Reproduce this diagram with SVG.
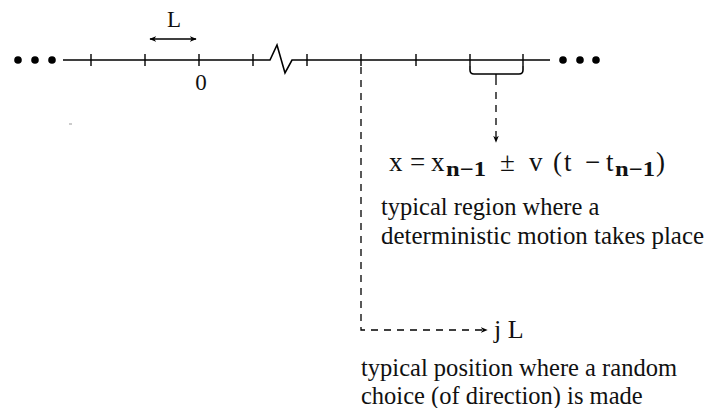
<svg xmlns="http://www.w3.org/2000/svg" width="710" height="408" viewBox="0 0 710 408">
<style>
.ln{stroke:#000;stroke-width:1.6;fill:none}
.tk{stroke:#000;stroke-width:1.4}
.ds{stroke:#000;stroke-width:1.3;fill:none;stroke-dasharray:7,6}
.t{font-family:"Liberation Serif","Times New Roman",serif;fill:#111}
.sub{font-family:"Liberation Serif","Times New Roman",serif;font-weight:bold;fill:#111}
</style>
<defs>
<marker id="ah" viewBox="0 0 10 10" refX="9" refY="5" markerWidth="7" markerHeight="7" markerUnits="userSpaceOnUse" orient="auto-start-reverse">
<path d="M0,1 L10,5 L0,9 L3,5 Z" fill="#000"/>
</marker>
</defs>
<rect width="710" height="408" fill="#fff"/>
<g id="axis">
<circle cx="18" cy="60" r="3.8" fill="#000"/>
<circle cx="35" cy="60" r="3.8" fill="#000"/>
<circle cx="52" cy="60" r="3.8" fill="#000"/>
<circle cx="563" cy="60" r="3.8" fill="#000"/>
<circle cx="580" cy="60" r="3.8" fill="#000"/>
<circle cx="596" cy="60" r="3.8" fill="#000"/>
<polyline class="ln" points="63,60 270,60 277,45 285,73 292,60 550,60"/>
<g class="tk">
<line x1="91" y1="54" x2="91" y2="66"/>
<line x1="145" y1="54" x2="145" y2="66"/>
<line x1="199" y1="54" x2="199" y2="66"/>
<line x1="253" y1="54" x2="253" y2="66"/>
<line x1="307" y1="54" x2="307" y2="66"/>
<line x1="361" y1="54" x2="361" y2="66"/>
<line x1="416" y1="54" x2="416" y2="66"/>
<line x1="470" y1="54" x2="470" y2="66"/>
<line x1="523" y1="54" x2="523" y2="66"/>
</g>
<text class="t" x="201" y="90" font-size="23" text-anchor="middle">0</text>
<line x1="69" y1="124" x2="72" y2="124" stroke="#aaa" stroke-width="1.2"/>
</g>
<g id="L-label">
<line x1="150" y1="39" x2="196" y2="39" stroke="#000" stroke-width="1.4" marker-start="url(#ah)" marker-end="url(#ah)"/>
<text class="t" x="174" y="27" font-size="23" text-anchor="middle">L</text>
</g>
<g id="region">
<path class="ln" d="M470,66 L470,70 Q470,74 474,74 L519,74 Q523,74 523,70 L523,66" stroke-width="1.3"/>
<line x1="496" y1="74" x2="496" y2="85" stroke="#000" stroke-width="1.3"/>
<g class="t" font-size="27">
<text x="389" y="171">x</text>
<text x="410" y="171">=</text>
<text x="431" y="171">x</text>
<text class="sub" x="446" y="176" font-size="21" textLength="40" lengthAdjust="spacingAndGlyphs">n−1</text>
<text x="500" y="171">±</text>
<text x="529" y="171">v</text>
<text x="553" y="171">(</text>
<text x="564" y="171">t</text>
<text x="585" y="171">−</text>
<text x="606" y="171">t</text>
<text class="sub" x="615" y="176" font-size="21" textLength="40" lengthAdjust="spacingAndGlyphs">n−1</text>
<text x="656" y="171">)</text>
</g>
<text class="t" font-size="24.5" x="381" y="215">typical region where a</text>
<text class="t" font-size="24.5" x="381" y="244" textLength="323" lengthAdjust="spacingAndGlyphs">deterministic motion takes place</text>
</g>
<g id="position">
<text class="t" font-size="26" x="494" y="338">j L</text>
<text class="t" font-size="24.5" x="361" y="376" textLength="316" lengthAdjust="spacingAndGlyphs">typical position where a random</text>
<text class="t" font-size="24.5" x="361" y="404">choice (of direction) is made</text>
</g>
<g id="connectors">
<path class="ds" d="M496,92 L496,142" marker-end="url(#ah)"/>
<path class="ds" d="M361,67 L361,330 L487,330" marker-end="url(#ah)"/>
</g>
</svg>
